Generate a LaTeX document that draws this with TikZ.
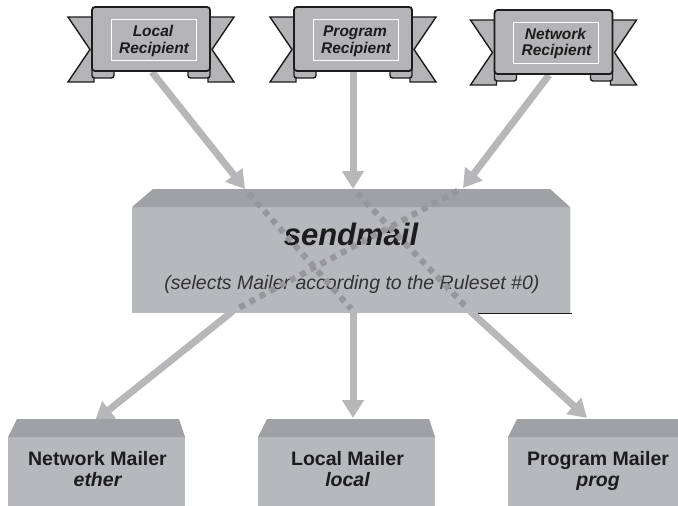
\documentclass[tikz,border=0pt]{standalone}
\usepackage{fontspec}
\setmainfont{Liberation Sans}
\usetikzlibrary{arrows.meta}
\definecolor{arrowgray}{HTML}{B7B7BA}
\definecolor{boxfront}{HTML}{B7B8BC}
\definecolor{boxtop}{HTML}{A0A1A5}
\definecolor{banfill}{HTML}{B4B4B7}
\definecolor{dotgray}{HTML}{97979B}
\definecolor{ink}{HTML}{1C1C1C}
\begin{document}
\begin{tikzpicture}[x=1pt,y=-1pt,
  flow/.style={draw=arrowgray, line width=7pt, -{Triangle[width=21pt,length=18pt]}},
  crossflow/.style={draw=dotgray, line width=6pt, dash pattern=on 6pt off 5.5pt},
  ribbonpart/.style={fill=banfill, draw=ink, line width=1.4pt, line join=miter},
  ribbonmain/.style={fill=banfill, draw=ink, line width=1.8pt, rounded corners=3pt},
  bantext/.style={font=\fontsize{15.5}{18}\selectfont\bfseries\itshape, text=ink, inner sep=0pt, anchor=base},
  mailertext/.style={font=\fontsize{19.5}{21}\selectfont\bfseries, text=ink, inner sep=0pt, anchor=base},
  boxtopface/.style={fill=boxtop},
  boxfrontface/.style={fill=boxfront}
]
\useasboundingbox (0,0) rectangle (678,506);
\clip (0,0) rectangle (678,506);
\fill[white] (0,0) rectangle (678,506);

% ---------- anchor coordinates ----------
\coordinate (lrout) at (152,72);
\coordinate (prout) at (353,72);
\coordinate (nrout) at (549,75);
\coordinate (smin1) at (245,189);
\coordinate (smin2) at (353,189);
\coordinate (smin3) at (463,188);
\coordinate (smout1) at (233,311);
\coordinate (smout2) at (353,311);
\coordinate (smout3) at (470,311);
\coordinate (nmin) at (95,421);
\coordinate (lmin) at (353,418);
\coordinate (pmin) at (587,418);

% ---------- arrows into sendmail ----------
\draw[flow] (lrout) -- (smin1);
\draw[flow] (prout) -- (smin2);
\draw[flow] (nrout) -- (smin3);

% ---------- arrows out of sendmail ----------
\draw[flow] (smout1) -- (nmin);
\draw[flow] (smout2) -- (lmin);
\draw[flow] (smout3) -- (pmin);

% ---------- ribbons ----------
\foreach \cx/\dy/\nm/\la/\lb in {151/0/lr/Local/Recipient, 353/0/pr/Program/Recipient, 553.5/3/nr/Network/Recipient}{
  \begin{scope}[shift={(\cx,\dy)}]
    \path[ribbonpart] (-59,17) -- (-83,17) -- (-61,49.5) -- (-83,82) -- (-57,82) -- (-57,70) -- cycle;
    \path[ribbonpart] (59,17) -- (83,17) -- (61,49.5) -- (83,82) -- (57,82) -- (57,70) -- cycle;
    \path[ribbonpart, rounded corners=2.5pt] (-59,64) rectangle (-37,78);
    \path[ribbonpart, rounded corners=2.5pt] (37,64) rectangle (59,78);
    \path[ribbonmain] (-59,7) rectangle (59,71);
    \draw[white, line width=1pt] (-40,19) rectangle (45,60);
    \node[bantext] (\nm-a) at (2,36) {\la};
    \node[bantext] (\nm-b) at (3,53) {\lb};
  \end{scope}
}

% ---------- sendmail box ----------
\path[boxfrontface] (132,207) rectangle (570,313);
\path[boxtopface] (132,207) -- (153,189) -- (550,189) -- (570,207) -- cycle;
\draw[white!90!black, line width=1.2pt] (570.6,207) -- (570.6,313);
\draw[ink, line width=1.2pt] (478,313.6) -- (572,313.6);
\node[font=\fontsize{31}{34}\selectfont\bfseries\itshape, text=ink, inner sep=0pt, anchor=base] (sm) at (351,245) {sendmail};
\node[font=\fontsize{19.5}{22}\selectfont\itshape, text=ink!90, inner sep=0pt, anchor=base] (smsub) at (352,289) {(selects Mailer according to the Ruleset \#0)};

% ---------- dotted crossing paths ----------
\draw[crossflow, shorten <=6pt, shorten >=3pt] (smin1) -- (smout2);
\draw[crossflow, shorten <=6pt, shorten >=3pt] (smin2) -- (smout3);
\draw[crossflow, shorten <=6pt, shorten >=3pt] (smin3) -- (smout1);

% ---------- mailer boxes ----------
\foreach \xl/\xr/\nm/\la/\lb in {8/185/nm/Network Mailer/ether, 258/435/lm/Local Mailer/local, 508/686/pm/Program Mailer/prog}{
  \path[boxfrontface] (\xl,437) rectangle (\xr,507);
  \path[boxtopface] (\xl,437) -- ({\xl+9},419) -- ({\xr-6},419) -- (\xr,437) -- cycle;
  \node[mailertext] (\nm-a) at ({(\xl+\xr)/2+1},465) {\la};
  \node[mailertext] (\nm-b) at ({(\xl+\xr)/2+1},486) {\itshape\lb};
}
\end{tikzpicture}
\end{document}
